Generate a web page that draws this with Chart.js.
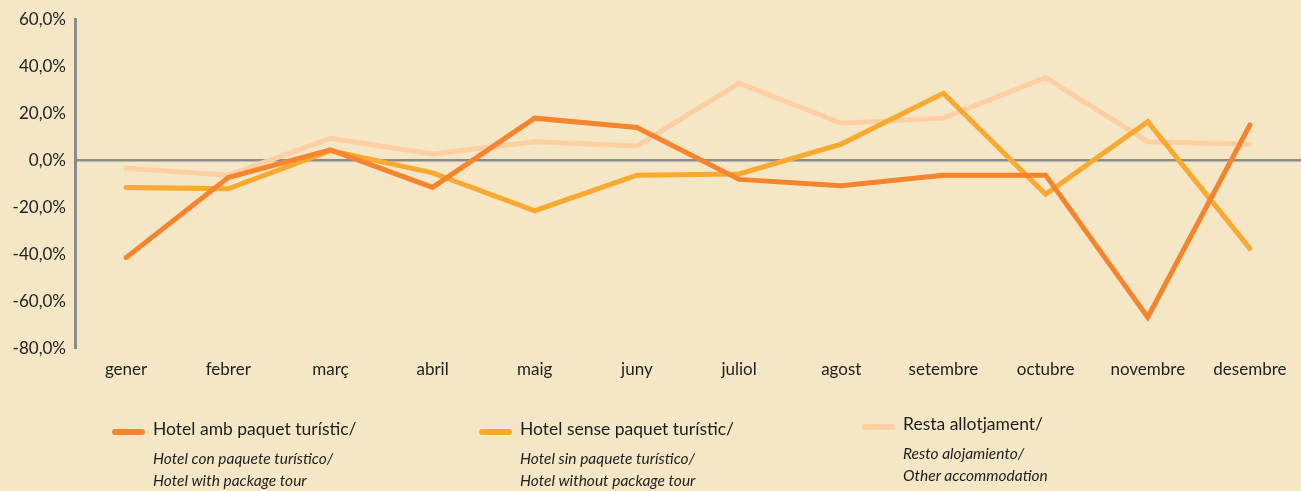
<!DOCTYPE html>
<html>
<head>
<meta charset="utf-8">
<script src="https://cdn.jsdelivr.net/npm/chart.js@4/dist/chart.umd.min.js"></script>
<style>
  html, body { margin: 0; padding: 0; background: #f5e7c6; }
  .wrap { position: relative; width: 1301px; height: 491px; overflow: hidden; }
  canvas { position: absolute; left: 0; top: 0; }
  .leg { position: absolute; font-family: Lato, "Open Sans", sans-serif; color: #1e1e1e; }
  .leg .sw { position: absolute; left: 0; top: 8px; width: 33px; height: 6px; border-radius: 3px; }
  .leg .t1 { position: absolute; left: 41px; top: -3px; font-size: 17.5px; white-space: nowrap; }
  .leg .t2 { position: absolute; left: 41px; top: 28px; font-size: 15.5px; font-style: italic; white-space: nowrap; }
  .leg .t3 { position: absolute; left: 41px; top: 50px; font-size: 15.5px; font-style: italic; white-space: nowrap; }
</style>
</head>
<body>
<div class="wrap">
  <canvas id="chart" width="1301" height="491"></canvas>
  <div id="legend"></div>
</div>
<script>
// months on the x axis
const months = ['gener', 'febrer', 'març', 'abril', 'maig', 'juny', 'juliol', 'agost', 'setembre', 'octubre', 'novembre', 'desembre'];

// % change
const hotelPaquet = [-41.2, -7.2, 4.5, -11.4, 18.0, 14.0, -8.0, -10.7, -6.2, -6.2, -66.5, 15.1];
const hotelSense = [-11.4, -12.0, 4.2, -5.2, -21.3, -6.2, -5.7, 7.0, 28.6, -14.3, 16.5, -37.4];
const restaAllot = [-3.3, -6.2, 9.4, 2.8, 8.0, 6.2, 32.8, 15.8, 18.0, 35.2, 8.0, 6.9];

const seriesLabels = [
  ['Hotel amb paquet turístic/', 'Hotel con paquete turístico/', 'Hotel with package tour'],
  ['Hotel sense paquet turístic/', 'Hotel sin paquete turístico/', 'Hotel without package tour'],
  ['Resta allotjament/', 'Resto alojamiento/', 'Other accommodation']
];
const colors = ['#f5842e', '#f9a92f', '#fdcfa2'];
const legendX = [112, 479, 862];

const axisGray = '#8a8c8c';

const mkSet = (i, data) => ({
  label: seriesLabels[i][0],
  data: data,
  borderColor: colors[i],
  backgroundColor: colors[i],
  borderWidth: 5,
  borderCapStyle: 'round',
  pointRadius: 0,
  tension: 0,
  fill: false
});

new Chart(document.getElementById('chart'), {
  type: 'line',
  data: {
    labels: months,
    datasets: [mkSet(0, hotelPaquet), mkSet(1, hotelSense), mkSet(2, restaAllot)]
  },
  options: {
    responsive: false,
    animation: false,
    layout: { padding: { top: 19, right: 0, bottom: 0, left: 0 } },
    plugins: { legend: { display: false }, tooltip: { enabled: false } },
    scales: {
      x: {
        offset: true,
        grid: { display: false, drawTicks: false },
        border: { display: false },
        ticks: { color: '#1e1e1e', padding: 10, font: { family: 'Lato', size: 17 }, maxRotation: 0 },
        afterFit: (s) => { s.height = 142; }
      },
      y: {
        min: -80,
        max: 60,
        ticks: {
          stepSize: 20,
          color: '#1e1e1e',
          padding: 9,
          font: { family: 'Lato', size: 17 },
          callback: (v) => v.toFixed(1).replace('.', ',') + '%'
        },
        grid: {
          drawTicks: false,
          color: (c) => c.tick && c.tick.value === 0 ? axisGray : 'rgba(0,0,0,0)',
          lineWidth: (c) => c.tick && c.tick.value === 0 ? 2.5 : 0
        },
        border: { display: true, color: axisGray, width: 3 },
        afterFit: (s) => { s.width = 75; }
      }
    }
  }
});

// legend below the plot
const leg = document.getElementById('legend');
seriesLabels.forEach((lines, i) => {
  const d = document.createElement('div');
  d.className = 'leg';
  d.style.left = legendX[i] + 'px';
  d.style.top = (i === 2 ? 416 : 421) + 'px';
  d.innerHTML = '<div class="sw" style="background:' + colors[i] + '"></div>' +
    '<div class="t1">' + lines[0] + '</div>' +
    '<div class="t2">' + lines[1] + '</div>' +
    '<div class="t3">' + lines[2] + '</div>';
  leg.appendChild(d);
});
</script>
</body>
</html>
